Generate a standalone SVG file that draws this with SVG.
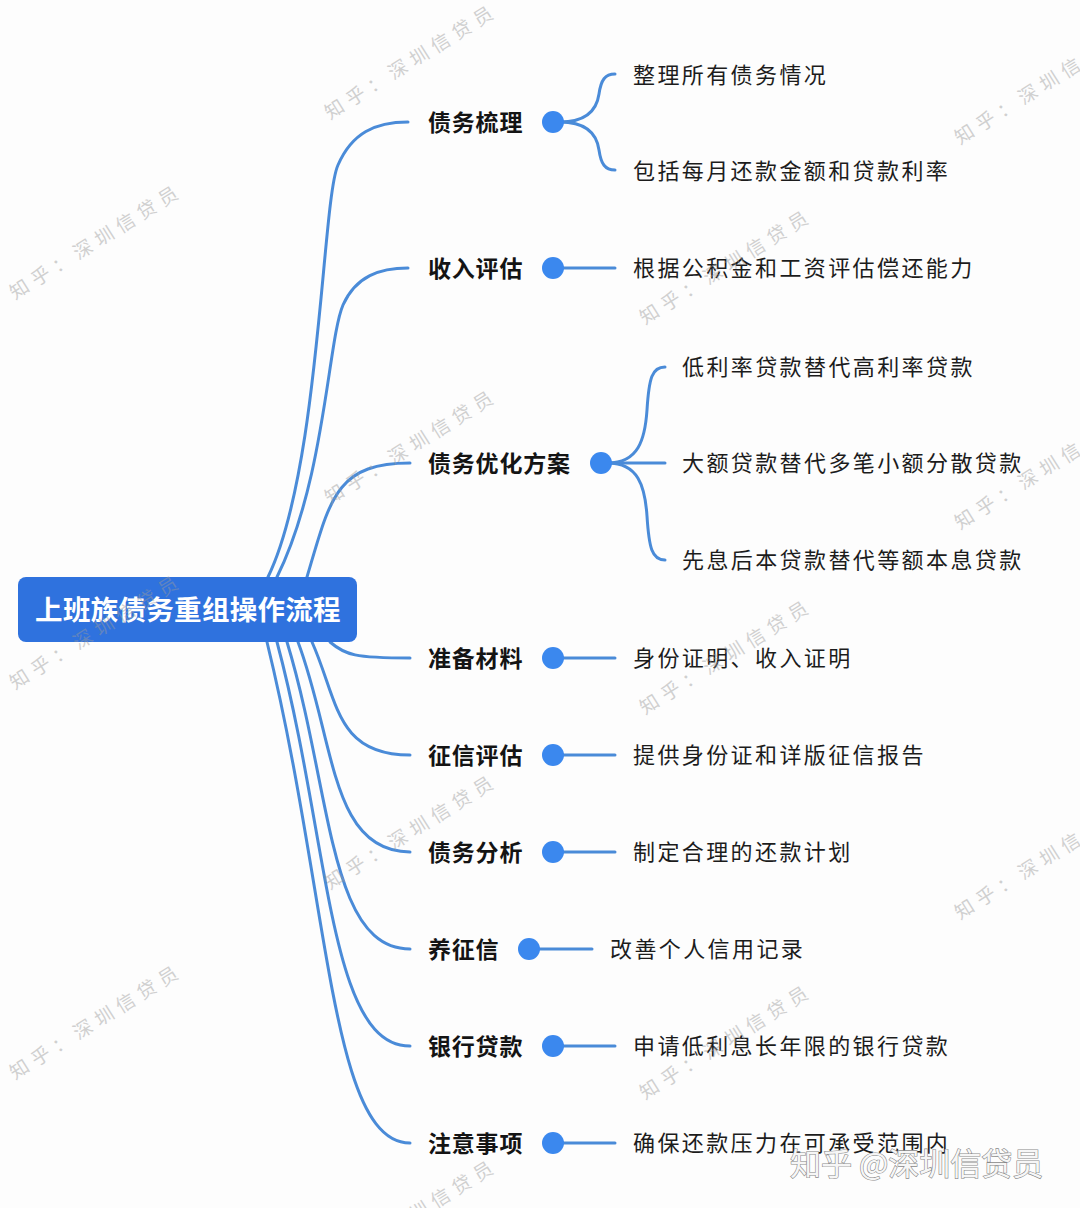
<svg xmlns="http://www.w3.org/2000/svg" width="1080" height="1208" viewBox="0 0 1080 1208">
<style>
  .ln{fill:none;stroke:#4a8bd8;stroke-width:3;stroke-linecap:round}
  .dot{fill:#3b88ee}
  .l1{font-family:"Noto Sans CJK SC","Noto Sans",sans-serif;font-size:23px;font-weight:bold;fill:#141414;letter-spacing:0.8px}
  .l2{font-family:"Noto Sans CJK SC","Noto Sans",sans-serif;font-size:22px;fill:#1c1c1c;letter-spacing:2.4px}
  .root{font-family:"Noto Sans CJK SC","Noto Sans",sans-serif;font-size:27.5px;font-weight:bold;fill:#ffffff;letter-spacing:0.3px}
  .wm{font-family:"Noto Sans CJK SC","Noto Sans",sans-serif;font-size:19px;fill:#9a9a9a;opacity:0.45;letter-spacing:6px}
  .brand{font-family:"Noto Sans CJK SC","Noto Sans",sans-serif;font-size:31px;fill:#f6f6f6;stroke:#8a8a8a;stroke-width:1.2;paint-order:stroke}
</style>
<rect x="0" y="0" width="1080" height="1208" fill="#fdfdfd"/>

<g id="connectors">
  <path class="ln" d="M268,577 C320,470 322,200 338,165 C352,133 375,122 408,122"/>
  <path class="ln" d="M277,577 C325,480 328,340 343,305 C356,276 380,268 408,268"/>
  <path class="ln" d="M307,577 C330,500 335,463 410,463"/>
  <path class="ln" d="M330,642 C345,655 355,658 410,658"/>
  <path class="ln" d="M312,642 C338,700 335,755 410,755"/>
  <path class="ln" d="M298,642 C335,740 330,852 410,852"/>
  <path class="ln" d="M287,642 C332,790 328,949 410,949"/>
  <path class="ln" d="M277,642 C330,840 328,1046 410,1046"/>
  <path class="ln" d="M267,642 C330,900 330,1143 410,1143"/>

  <path class="ln" d="M560,122 C588,122 597,108 599,94 C601,80 605,74 615,74"/>
  <path class="ln" d="M560,122 C588,122 597,136 599,150 C601,164 605,170 615,170"/>
  <path class="ln" d="M553,268 L615,268"/>
  <path class="ln" d="M608,463 C638,463 645,440 647,410 C649,378 652,367 665,367"/>
  <path class="ln" d="M608,463 L665,463"/>
  <path class="ln" d="M608,463 C638,463 645,486 647,516 C649,548 652,560 665,560"/>
  <path class="ln" d="M553,658 L615,658"/>
  <path class="ln" d="M553,755 L615,755"/>
  <path class="ln" d="M553,852 L615,852"/>
  <path class="ln" d="M529,949 L592,949"/>
  <path class="ln" d="M553,1046 L615,1046"/>
  <path class="ln" d="M553,1143 L615,1143"/>
</g>

<g id="root">
  <rect x="18" y="577" width="339" height="65" rx="8" fill="#2f72de"/>
  <text class="root" x="188" y="620" text-anchor="middle">上班族债务重组操作流程</text>
</g>

<g id="n1"><text class="l1" x="428" y="131">债务梳理</text><circle class="dot" cx="553" cy="122" r="11"/></g>
<g id="n1a"><text class="l2" x="633" y="83">整理所有债务情况</text></g>
<g id="n1b"><text class="l2" x="633" y="179">包括每月还款金额和贷款利率</text></g>

<g id="n2"><text class="l1" x="428" y="277">收入评估</text><circle class="dot" cx="553" cy="268" r="11"/></g>
<g id="n2a"><text class="l2" x="633" y="276">根据公积金和工资评估偿还能力</text></g>

<g id="n3"><text class="l1" x="428" y="472">债务优化方案</text><circle class="dot" cx="601" cy="463" r="11"/></g>
<g id="n3a"><text class="l2" x="682" y="375">低利率贷款替代高利率贷款</text></g>
<g id="n3b"><text class="l2" x="682" y="471">大额贷款替代多笔小额分散贷款</text></g>
<g id="n3c"><text class="l2" x="682" y="568">先息后本贷款替代等额本息贷款</text></g>

<g id="n4"><text class="l1" x="428" y="667">准备材料</text><circle class="dot" cx="553" cy="658" r="11"/></g>
<g id="n4a"><text class="l2" x="633" y="666">身份证明、收入证明</text></g>

<g id="n5"><text class="l1" x="428" y="764">征信评估</text><circle class="dot" cx="553" cy="755" r="11"/></g>
<g id="n5a"><text class="l2" x="633" y="763">提供身份证和详版征信报告</text></g>

<g id="n6"><text class="l1" x="428" y="861">债务分析</text><circle class="dot" cx="553" cy="852" r="11"/></g>
<g id="n6a"><text class="l2" x="633" y="860">制定合理的还款计划</text></g>

<g id="n7"><text class="l1" x="428" y="958">养征信</text><circle class="dot" cx="529" cy="949" r="11"/></g>
<g id="n7a"><text class="l2" x="610" y="957">改善个人信用记录</text></g>

<g id="n8"><text class="l1" x="428" y="1055">银行贷款</text><circle class="dot" cx="553" cy="1046" r="11"/></g>
<g id="n8a"><text class="l2" x="633" y="1054">申请低利息长年限的银行贷款</text></g>

<g id="n9"><text class="l1" x="428" y="1152">注意事项</text><circle class="dot" cx="553" cy="1143" r="11"/></g>
<g id="n9a"><text class="l2" x="633" y="1151">确保还款压力在可承受范围内</text></g>

<g id="watermarks">
  <text class="wm" transform="translate(15,300) rotate(-32)">知乎：深圳信贷员</text>
  <text class="wm" transform="translate(15,690) rotate(-32)">知乎：深圳信贷员</text>
  <text class="wm" transform="translate(15,1080) rotate(-32)">知乎：深圳信贷员</text>
  <text class="wm" transform="translate(330,120) rotate(-32)">知乎：深圳信贷员</text>
  <text class="wm" transform="translate(330,505) rotate(-32)">知乎：深圳信贷员</text>
  <text class="wm" transform="translate(330,890) rotate(-32)">知乎：深圳信贷员</text>
  <text class="wm" transform="translate(330,1275) rotate(-32)">知乎：深圳信贷员</text>
  <text class="wm" transform="translate(645,325) rotate(-32)">知乎：深圳信贷员</text>
  <text class="wm" transform="translate(645,715) rotate(-32)">知乎：深圳信贷员</text>
  <text class="wm" transform="translate(645,1100) rotate(-32)">知乎：深圳信贷员</text>
  <text class="wm" transform="translate(960,145) rotate(-32)">知乎：深圳信贷员</text>
  <text class="wm" transform="translate(960,530) rotate(-32)">知乎：深圳信贷员</text>
  <text class="wm" transform="translate(960,920) rotate(-32)">知乎：深圳信贷员</text>
  <text class="brand" x="790" y="1175">知乎 @深圳信贷员</text>
</g>
</svg>
